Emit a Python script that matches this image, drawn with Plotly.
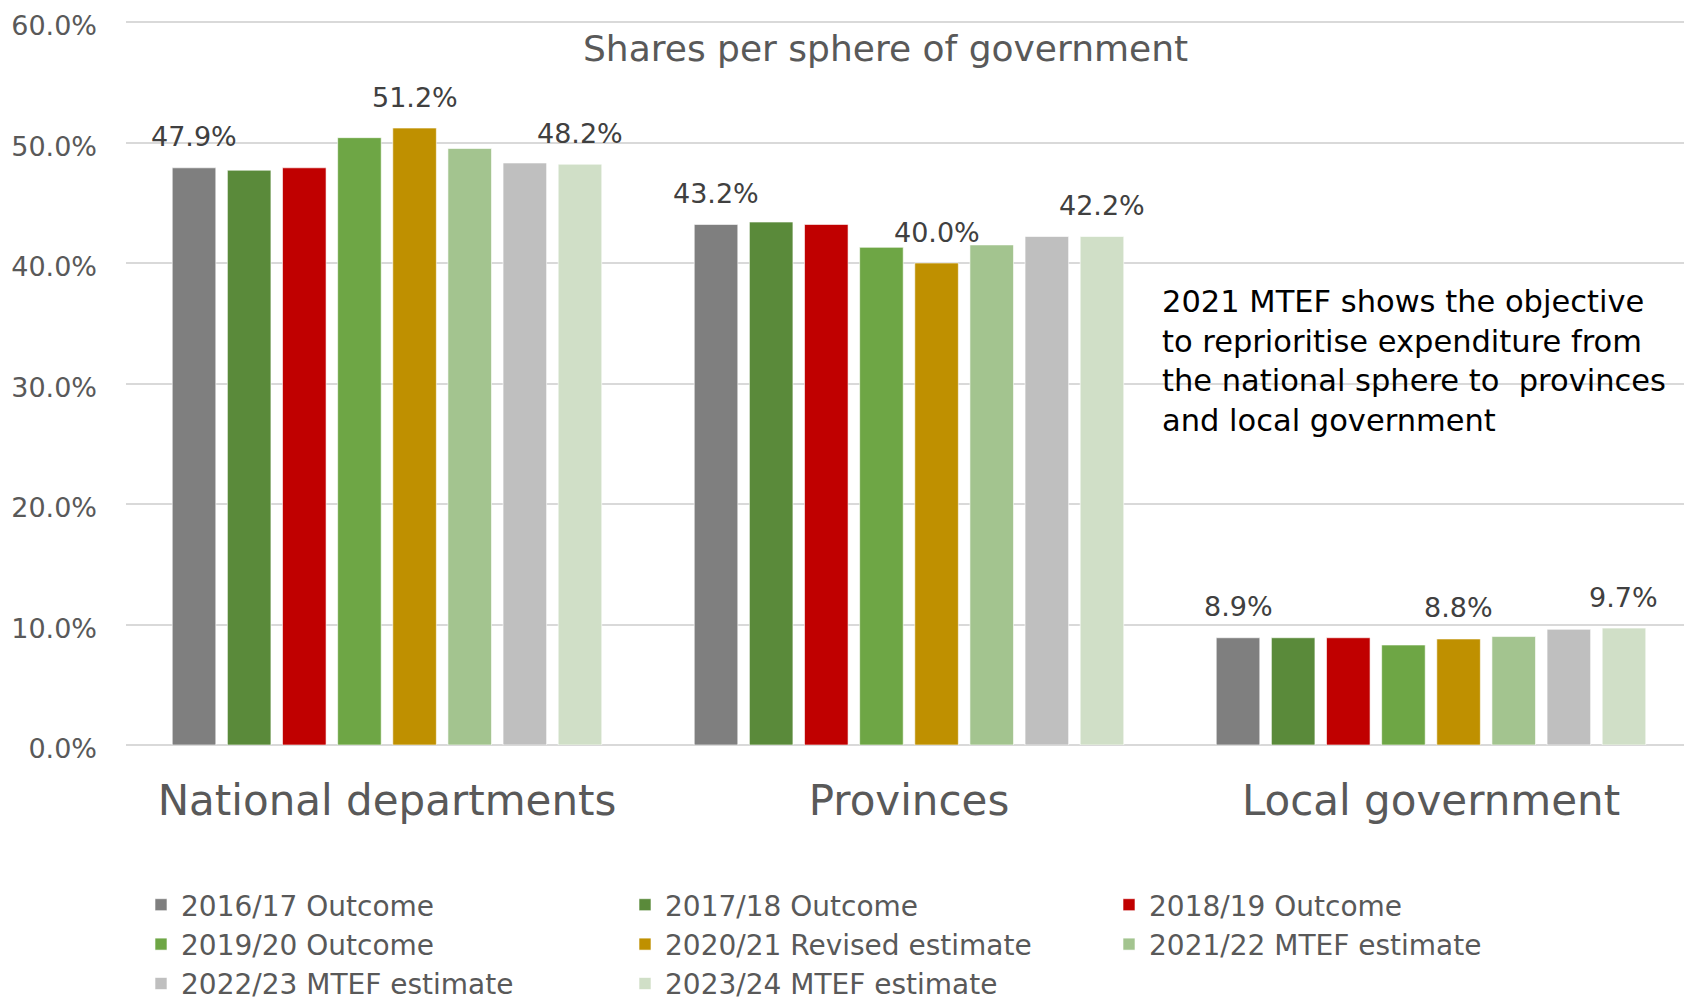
import plotly.graph_objects as go

categories = ["National departments", "Provinces", "Local government"]
series_names = ["2016/17 Outcome", "2017/18 Outcome", "2018/19 Outcome", "2019/20 Outcome",
                "2020/21 Revised estimate", "2021/22 MTEF estimate", "2022/23 MTEF estimate",
                "2023/24 MTEF estimate"]
national = [47.9, 47.7, 47.9, 50.4, 51.2, 49.5, 48.3, 48.2]
provinces = [43.2, 43.4, 43.2, 41.3, 40.0, 41.5, 42.2, 42.2]
local_gov = [8.9, 8.9, 8.9, 8.3, 8.8, 9.0, 9.6, 9.7]
colors = ["#7f7f7f", "#5a8a3a", "#c00000", "#6ea645", "#bf9000", "#a3c48f", "#bfbfbf", "#d0dfc7"]
labelled_series = [0, 4, 7]
y_ticks = [0, 10, 20, 30, 40, 50, 60]
y_ticktext = ["0.0%", "10.0%", "20.0%", "30.0%", "40.0%", "50.0%", "60.0%"]
title_text = "Shares per sphere of government"
note_text = ("2021 MTEF shows the objective<br>to reprioritise expenditure from<br>"
             "the national sphere to  provinces<br>and local government")

FONT = "DejaVu Sans"
OFF = 8  # page body margin offset
W, H = 1692 - OFF, 1006 - OFF
ML, MR, MT, MB = 126 - OFF, 0, 10, 1006 - 745
BARGAP = 0.155
plot_w = W - ML - MR
plot_h = H - MT - MB
slot = plot_w / len(categories) * (1 - BARGAP) / len(series_names)
# 0% sits at screen y=745, 60% at screen y=22
y_top = 60 * plot_h / (745 - 22)


def px_x(px):
    return (px - OFF - ML) / plot_w


def px_y(py):
    return (H - MB - (py - OFF)) / plot_h


fig = go.Figure()
for i, name in enumerate(series_names):
    vals = [national[i], provinces[i], local_gov[i]]
    fig.add_trace(go.Bar(
        x=categories, y=vals, name=name,
        marker=dict(color=colors[i], line=dict(color="rgba(255,255,255,0.6)", width=1)),
    ))
    if i in labelled_series:
        for c, v in zip(categories, vals):
            fig.add_annotation(
                x=c, y=v, xref="x", yref="y", text=f"{v:.1f}%", showarrow=False,
                xshift=(i - (len(series_names) - 1) / 2) * slot, yshift=31,
                font=dict(family=FONT, size=27, color="#404040"),
            )

fig.add_annotation(
    x=px_x(885), y=px_y(48), xref="paper", yref="paper",
    text=title_text, showarrow=False, xanchor="center", yanchor="middle",
    font=dict(family=FONT, size=36, color="#595959"),
)
fig.add_annotation(
    x=px_x(1160), y=px_y(282), xref="paper", yref="paper",
    text=note_text, showarrow=False, xanchor="left", yanchor="top", align="left",
    font=dict(family=FONT, size=30.5, color="#000000"),
)

fig.update_layout(
    width=W, height=H,
    margin=dict(l=ML, r=MR, t=MT, b=MB, autoexpand=False),
    paper_bgcolor="white", plot_bgcolor="white",
    barmode="group", bargap=BARGAP, bargroupgap=0.21,
    font=dict(family=FONT, color="#595959"),
    showlegend=True,
    legend=dict(
        orientation="h", x=px_x(141), xanchor="left",
        y=px_y(880), yanchor="top",
        entrywidth=439, entrywidthmode="pixels",
        font=dict(family=FONT, size=28, color="#595959"),
        traceorder="normal",
    ),
)
fig.update_xaxes(
    type="category", showgrid=False, showline=False, ticks="",
    tickfont=dict(family=FONT, size=42, color="#595959"), ticklabelstandoff=27,
)
fig.update_yaxes(
    range=[0, y_top], tickvals=y_ticks, ticktext=y_ticktext, ticklabeloverflow="allow",
    showgrid=True, gridcolor="#d9d9d9", gridwidth=2,
    zeroline=True, zerolinecolor="#d9d9d9", zerolinewidth=2,
    showline=False, ticks="",
    tickfont=dict(family=FONT, size=27, color="#595959"), ticklabelstandoff=28,
    ticklabelshift=4,
)

fig.write_html("out.html")
